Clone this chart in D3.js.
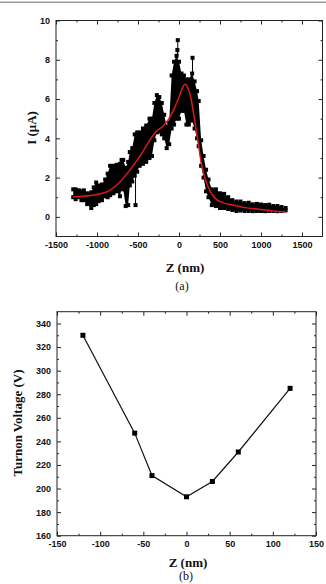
<!DOCTYPE html>
<html>
<head>
<meta charset="utf-8">
<script src="https://cdn.jsdelivr.net/npm/d3@7"></script>
<style>
  body { margin: 0; background: #fff; }
  .tick text { font-family: "Liberation Sans", Arial, sans-serif; font-weight: bold; font-size: 9px; fill: #111; }
  .tick line { stroke: #222; }
  .domain { display: none; }
</style>
</head>
<body>
<div id="fig"></div>
<script>
// (a) current vs Z : measured band (low / high envelope of the scatter) and fit
var zBand = [-1290, -1260, -1220, -1190, -1160, -1120, -1070, -1040, -1010, -980, -940, -900, -870, -840, -800, -760, -720, -700, -680, -650, -620, -600, -570, -540, -510, -480, -440, -400, -360, -330, -300, -270, -240, -210, -180, -150, -120, -90, -60, -30, 0, 30, 60, 90, 120, 160, 190, 220, 240, 270, 300, 330, 360, 400, 450, 500, 550, 600, 650, 700, 750, 800, 850, 900, 950, 1000, 1050, 1100, 1150, 1200, 1250, 1300];
var iLow = [1.0, 0.9, 1.0, 0.85, 0.85, 0.65, 0.45, 0.6, 0.65, 0.8, 0.85, 1.05, 1.0, 1.1, 1.2, 1.3, 1.05, 1.45, 1.4, 0.55, 0.6, 1.6, 1.8, 2.1, 2.3, 2.6, 2.7, 2.8, 3.0, 3.1, 3.9, 4.3, 4.35, 4.2, 4.0, 3.5, 3.7, 4.5, 4.7, 5.0, 5.0, 5.4, 5.4, 4.7, 4.7, 4.9, 4.5, 4.0, 3.6, 2.6, 2.0, 1.3, 1.0, 0.6, 0.55, 0.45, 0.45, 0.4, 0.35, 0.3, 0.32, 0.3, 0.3, 0.29, 0.3, 0.3, 0.29, 0.3, 0.3, 0.29, 0.3, 0.33];
var iHigh = [1.4, 1.4, 1.35, 1.3, 1.35, 1.2, 1.25, 1.5, 1.75, 1.6, 1.65, 1.9, 2.2, 2.6, 2.6, 2.65, 2.7, 2.9, 2.9, 2.5, 2.8, 3.3, 3.5, 4.2, 4.3, 4.3, 4.5, 4.65, 5.0, 5.0, 5.8, 6.2, 6.1, 5.8, 5.2, 4.6, 4.8, 7.2, 7.9, 8.2, 7.9, 7.3, 7.2, 7.0, 7.0, 7.3, 6.9, 6.4, 5.9, 3.9, 3.1, 2.4, 1.9, 1.4, 1.4, 1.2, 1.17, 1.0, 0.85, 0.78, 0.78, 0.7, 0.72, 0.64, 0.66, 0.63, 0.6, 0.62, 0.55, 0.55, 0.5, 0.45];
// isolated points off the band
var zSpike = [-530, -15, -20, 165];
var iSpike = [0.6, 9.0, 8.5, 8.1];
var iSpikeFrom = [2.1, 8.2, 8.2, 7.3];
// fit curve
var zFit = [-1290, -1000, -840, -720, -600, -500, -430, -350, -280, -200, -130, -60, 0, 40, 75, 110, 150, 180, 210, 240, 270, 300, 340, 380, 420, 460, 550, 660, 800, 990, 1150, 1300];
var iFit = [1.02, 1.14, 1.36, 1.78, 2.38, 2.95, 3.4, 3.95, 4.35, 4.6, 4.95, 5.5, 6.1, 6.55, 6.75, 6.55, 5.95, 5.2, 4.4, 3.6, 2.8, 2.2, 1.7, 1.3, 1.05, 0.88, 0.7, 0.6, 0.47, 0.38, 0.3, 0.25];
var xTicksA = [-1500, -1000, -500, 0, 500, 1000, 1500];
var xMinorA = [-1250, -750, -250, 250, 750, 1250];
var yTicksA = [0, 2, 4, 6, 8, 10];
var yMinorA = [1, 3, 5, 7, 9];

// (b) turn-on voltage vs Z
var zTurn = [-120, -60, -40, 0, 30, 60, 120];
var vTurn = [330, 247, 211, 193, 206, 231, 285];
var xTicksB = [-150, -100, -50, 0, 50, 100, 150];
var xMinorB = [-125, -75, -25, 25, 75, 125];
var yTicksB = [160, 180, 200, 220, 240, 260, 280, 300, 320, 340];
var yMinorB = [170, 190, 210, 230, 250, 270, 290, 310, 330];

var W = 326, H = 584;
var svg = d3.select("#fig").append("svg").attr("width", W).attr("height", H);

// grey rule at the very top
svg.append("rect").attr("x", 0).attr("y", 1.5).attr("width", W).attr("height", 1.5).attr("fill", "#9a9a9a");

var plain = function (d) { return String(d); };

function frame(g, x, y, major, minorX, majorY, minorY) {
  var x0 = x.range()[0], x1 = x.range()[1], y0 = y.range()[0], y1 = y.range()[1];
  g.append("g").attr("transform", "translate(0," + y0 + ")")
    .call(d3.axisBottom(x).tickValues(major).tickSize(-4).tickPadding(5).tickFormat(plain));
  g.append("g").attr("transform", "translate(0," + y0 + ")")
    .call(d3.axisBottom(x).tickValues(minorX).tickSize(-2).tickFormat(""));
  g.append("g").attr("transform", "translate(0," + y1 + ")")
    .call(d3.axisTop(x).tickValues(major).tickSize(-4).tickFormat(""));
  g.append("g").attr("transform", "translate(0," + y1 + ")")
    .call(d3.axisTop(x).tickValues(minorX).tickSize(-2).tickFormat(""));
  g.append("g").attr("transform", "translate(" + x0 + ",0)")
    .call(d3.axisLeft(y).tickValues(majorY).tickSize(-4).tickPadding(6).tickFormat(plain));
  g.append("g").attr("transform", "translate(" + x0 + ",0)")
    .call(d3.axisLeft(y).tickValues(minorY).tickSize(-2).tickFormat(""));
  g.append("g").attr("transform", "translate(" + x1 + ",0)")
    .call(d3.axisRight(y).tickValues(majorY).tickSize(-4).tickFormat(""));
  g.append("g").attr("transform", "translate(" + x1 + ",0)")
    .call(d3.axisRight(y).tickValues(minorY).tickSize(-2).tickFormat(""));
  g.append("rect")
    .attr("x", x0).attr("y", y1)
    .attr("width", x1 - x0).attr("height", y0 - y1)
    .attr("fill", "none").attr("stroke", "#222").attr("stroke-width", 1);
}

function label(g, txt, x, y, size, bold, rotate) {
  var t = g.append("text")
    .attr("text-anchor", "middle")
    .attr("font-family", "'Liberation Serif', 'Times New Roman', serif")
    .attr("font-size", size)
    .attr("font-weight", bold ? "bold" : "normal")
    .attr("fill", "#111");
  if (rotate) t.attr("transform", "translate(" + x + "," + y + ") rotate(-90)");
  else t.attr("x", x).attr("y", y);
  return t.text(txt);
}

// ---------- panel (a)
var gA = svg.append("g");
var xA = d3.scaleLinear().domain([-1500, 1750]).range([56, 322.5]);
var yA = d3.scaleLinear().domain([-1, 10]).range([236.5, 20.5]);

var band = zBand.map(function (z, i) { return { z: z, lo: iLow[i], hi: iHigh[i] }; });

gA.append("path")
  .datum(band)
  .attr("fill", "#000")
  .attr("d", d3.area()
    .x(function (d) { return xA(d.z); })
    .y0(function (d) { return yA(d.lo); })
    .y1(function (d) { return yA(d.hi); }));

var sq = 4;
gA.append("g").selectAll("rect.lo")
  .data(band).enter().append("rect")
  .attr("x", function (d) { return xA(d.z) - sq / 2; })
  .attr("y", function (d) { return yA(d.lo) - sq / 2; })
  .attr("width", sq).attr("height", sq).attr("fill", "#000");
gA.append("g").selectAll("rect.hi")
  .data(band).enter().append("rect")
  .attr("x", function (d) { return xA(d.z) - sq / 2; })
  .attr("y", function (d) { return yA(d.hi) - sq / 2; })
  .attr("width", sq).attr("height", sq).attr("fill", "#000");

var spikes = zSpike.map(function (z, i) { return { z: z, i: iSpike[i], from: iSpikeFrom[i] }; });
gA.append("g").selectAll("line")
  .data(spikes).enter().append("line")
  .attr("x1", function (d) { return xA(d.z); })
  .attr("x2", function (d) { return xA(d.z); })
  .attr("y1", function (d) { return yA(d.from); })
  .attr("y2", function (d) { return yA(d.i); })
  .attr("stroke", "#000").attr("stroke-width", 1);
gA.append("g").selectAll("rect")
  .data(spikes).enter().append("rect")
  .attr("x", function (d) { return xA(d.z) - sq / 2; })
  .attr("y", function (d) { return yA(d.i) - sq / 2; })
  .attr("width", sq).attr("height", sq).attr("fill", "#000");

gA.append("path")
  .datum(zFit.map(function (z, i) { return [z, iFit[i]]; }))
  .attr("fill", "none")
  .attr("stroke", "#d8191c")
  .attr("stroke-width", 1.5)
  .attr("d", d3.line()
    .x(function (d) { return xA(d[0]); })
    .y(function (d) { return yA(d[1]); })
    .curve(d3.curveMonotoneX));

frame(gA, xA, yA, xTicksA, xMinorA, yTicksA, yMinorA);
label(gA, "Z (nm)", 185, 272, 13, true, false);
label(gA, "(a)", 182, 290, 12, false, false);
label(gA, "I (\u03bcA)", 36, 128, 13, true, true);

// ---------- panel (b)
var gB = svg.append("g");
var xB = d3.scaleLinear().domain([-150, 150]).range([57, 316]);
var yB = d3.scaleLinear().domain([160, 350]).range([535.7, 311.7]);

var turn = zTurn.map(function (z, i) { return [z, vTurn[i]]; });
gB.append("path")
  .datum(turn)
  .attr("fill", "none")
  .attr("stroke", "#111")
  .attr("stroke-width", 1.2)
  .attr("d", d3.line()
    .x(function (d) { return xB(d[0]); })
    .y(function (d) { return yB(d[1]); }));
gB.append("g").selectAll("rect")
  .data(turn).enter().append("rect")
  .attr("x", function (d) { return xB(d[0]) - 2.5; })
  .attr("y", function (d) { return yB(d[1]) - 2.5; })
  .attr("width", 5).attr("height", 5).attr("fill", "#000");

frame(gB, xB, yB, xTicksB, xMinorB, yTicksB, yMinorB);
label(gB, "Z (nm)", 188, 567, 13, true, false);
label(gB, "(b)", 186, 580, 12, false, false);
label(gB, "Turnon Voltage (V)", 22, 423, 13, true, true);
</script>
</body>
</html>
